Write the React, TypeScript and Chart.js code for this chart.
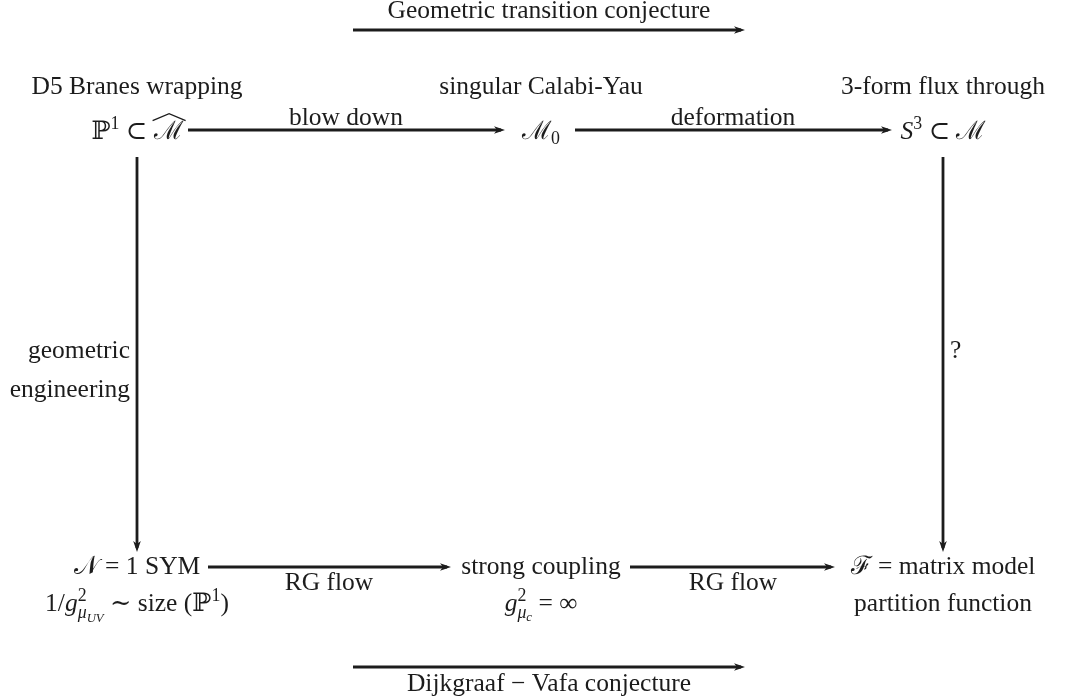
import { useEffect, useRef } from "react";
import { Chart, registerables } from "chart.js";

Chart.register(...registerables);

type Seg = { t: string; it?: boolean; lvl?: number; dy?: number; back?: boolean; hat?: boolean };

// ---- arrows (diagram coordinates: x 0..1069, y 0..700 top-down) ----
const arrowX1 = [353, 188, 575, 208, 630, 353, 137, 943];
const arrowY1 = [30, 130, 130, 567, 567, 667, 157, 157];
const arrowX2 = [745, 505, 892, 451, 835, 745, 137, 943];
const arrowY2 = [30, 130, 130, 567, 567, 667, 552, 552];

// ---- labels ----
const labelText: Seg[][] = [
  [{ t: "Geometric transition conjecture" }],
  [{ t: "D5 Branes wrapping" }],
  [{ t: "singular Calabi-Yau" }],
  [{ t: "3-form flux through" }],
  [{ t: "ℙ" }, { t: "1", lvl: 1, dy: -10 }, { t: " ⊂ " }, { t: "ℳ", hat: true }],
  [{ t: "blow down" }],
  [{ t: "ℳ" }, { t: "0", lvl: 1, dy: 5 }],
  [{ t: "deformation" }],
  [{ t: "S", it: true }, { t: "3", lvl: 1, dy: -10 }, { t: " ⊂ " }, { t: "ℳ" }],
  [{ t: "geometric" }],
  [{ t: "engineering" }],
  [{ t: "?" }],
  [{ t: "𝒩" }, { t: " = 1 SYM" }],
  [{ t: "RG flow" }],
  [{ t: "strong coupling" }],
  [{ t: "RG flow" }],
  [{ t: "ℱ" }, { t: " = matrix model" }],
  [
    { t: "1/" },
    { t: "g", it: true },
    { t: "2", lvl: 1, dy: -10 },
    { t: "μ", it: true, lvl: 1, dy: 7, back: true },
    { t: "UV", it: true, lvl: 2, dy: 11 },
    { t: " ∼ size (" },
    { t: "ℙ" },
    { t: "1", lvl: 1, dy: -10 },
    { t: ")" },
  ],
  [
    { t: "g", it: true },
    { t: "2", lvl: 1, dy: -10 },
    { t: "μ", it: true, lvl: 1, dy: 7, back: true },
    { t: "c", it: true, lvl: 2, dy: 10 },
    { t: " = ∞" },
  ],
  [{ t: "partition function" }],
  [{ t: "Dijkgraaf − Vafa conjecture" }],
];
const labelX = [549, 137, 541, 943, 137, 346, 541, 733, 943, 130, 130, 950, 137, 329, 541, 733, 943, 137, 541, 943, 549];
const labelY = [18, 94, 94, 94, 139, 125, 139, 125, 139, 358, 397, 358, 574, 590, 574, 590, 574, 611, 611, 611, 691];
const labelAlign = ["c", "c", "c", "c", "c", "c", "c", "c", "c", "r", "r", "l", "c", "c", "c", "c", "c", "c", "c", "c", "c"];

const INK = "#1c1c1c";
const BASE = 25.5;
const FAMILY = '"Liberation Serif", "DejaVu Serif", serif';
const SCALE = [1, 0.7, 0.5];

function fontFor(s: Seg) {
  const size = BASE * SCALE[s.lvl ?? 0];
  return `${s.it ? "italic " : ""}${size}px ${FAMILY}`;
}

function drawRich(ctx: CanvasRenderingContext2D, segs: Seg[], px: number, py: number, align: string) {
  const starts: number[] = [];
  const widths: number[] = [];
  let x = 0;
  let max = 0;
  let prevStart = 0;
  segs.forEach((s) => {
    ctx.font = fontFor(s);
    const w = ctx.measureText(s.t).width;
    if (!s.lvl) x = max;
    if (s.back) x = prevStart;
    starts.push(x);
    widths.push(w);
    prevStart = x;
    x += w;
    max = Math.max(max, x);
  });
  let x0 = px - max / 2;
  if (align === "r") x0 = px - max;
  if (align === "l") x0 = px;
  ctx.fillStyle = INK;
  ctx.textBaseline = "alphabetic";
  ctx.textAlign = "left";
  segs.forEach((s, i) => {
    ctx.font = fontFor(s);
    const sx = x0 + starts[i];
    const sy = py + (s.dy ?? 0);
    ctx.fillText(s.t, sx, sy);
    if (s.hat) {
      const w = widths[i];
      const top = sy - BASE * 0.72 - 3;
      ctx.save();
      ctx.strokeStyle = INK;
      ctx.lineWidth = 1.3;
      ctx.beginPath();
      ctx.moveTo(sx - 1, top + 3);
      ctx.lineTo(sx + w / 2 + 1, top - 4);
      ctx.lineTo(sx + w + 3, top + 3);
      ctx.stroke();
      ctx.restore();
    }
  });
}

const diagramPlugin = {
  id: "diagramText",
  afterDatasetsDraw(chart: any) {
    const ctx: CanvasRenderingContext2D = chart.ctx;
    const xs = chart.scales.x;
    const ys = chart.scales.y;
    ctx.save();
    arrowX1.forEach((_, i) => {
      const x1 = xs.getPixelForValue(arrowX1[i]);
      const y1 = ys.getPixelForValue(arrowY1[i]);
      const x2 = xs.getPixelForValue(arrowX2[i]);
      const y2 = ys.getPixelForValue(arrowY2[i]);
      const len = Math.hypot(x2 - x1, y2 - y1);
      const ux = (x2 - x1) / len;
      const uy = (y2 - y1) / len;
      const L = 11;
      const W = 3.8;
      ctx.fillStyle = INK;
      ctx.beginPath();
      ctx.moveTo(x2, y2);
      ctx.lineTo(x2 - L * ux - W * uy, y2 - L * uy + W * ux);
      ctx.lineTo(x2 - 0.72 * L * ux, y2 - 0.72 * L * uy);
      ctx.lineTo(x2 - L * ux + W * uy, y2 - L * uy - W * ux);
      ctx.closePath();
      ctx.fill();
    });
    labelText.forEach((segs, i) => {
      drawRich(ctx, segs, xs.getPixelForValue(labelX[i]), ys.getPixelForValue(labelY[i]), labelAlign[i]);
    });
    ctx.restore();
  },
};

export default function App() {
  const ref = useRef<HTMLCanvasElement | null>(null);
  useEffect(() => {
    if (!ref.current) return;
    const datasets = arrowX1.map((_, i) => ({
      data: [
        { x: arrowX1[i], y: arrowY1[i] },
        { x: arrowX2[i] - (arrowX2[i] - arrowX1[i] === 0 ? 0 : 4), y: arrowY2[i] - (arrowY2[i] - arrowY1[i] === 0 ? 0 : 4) },
      ],
      showLine: true,
      borderColor: INK,
      backgroundColor: INK,
      borderWidth: 2.8,
      pointRadius: 0,
      pointHoverRadius: 0,
    }));
    const chart = new Chart(ref.current, {
      type: "scatter",
      data: { datasets },
      options: {
        animation: false,
        responsive: false,
        maintainAspectRatio: false,
        events: [],
        layout: { padding: 0 },
        plugins: { legend: { display: false }, tooltip: { enabled: false } },
        scales: {
          x: { type: "linear", min: 0, max: 1069, display: false },
          y: { type: "linear", min: 0, max: 700, reverse: true, display: false },
        },
      },
      plugins: [diagramPlugin],
    });
    return () => chart.destroy();
  }, []);
  return (
    <div style={{ position: "fixed", left: 0, top: 0, width: 1069, height: 700, background: "#fff" }}>
      <canvas ref={ref} width={1069} height={700} style={{ display: "block", width: 1069, height: 700 }} />
    </div>
  );
}
